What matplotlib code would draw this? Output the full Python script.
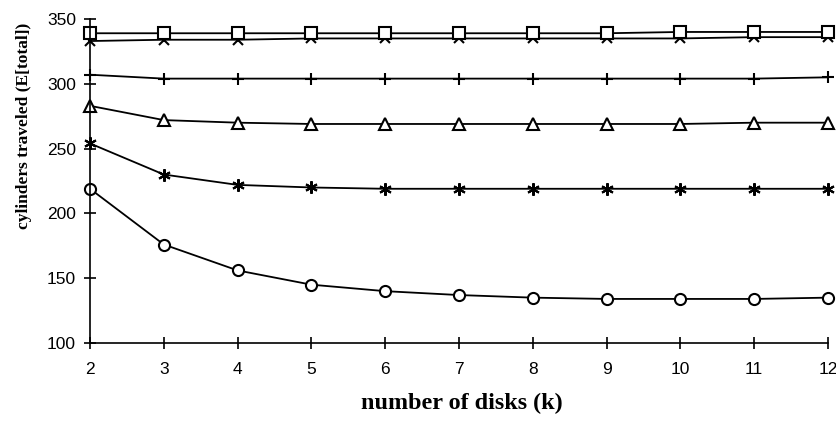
import matplotlib
matplotlib.use("Agg")
import matplotlib.pyplot as plt

k = [2, 3, 4, 5, 6, 7, 8, 9, 10, 11, 12]
square = [339, 339, 339, 339, 339, 339, 339, 339, 340, 340, 340]
xcross = [333, 334, 334, 335, 335, 335, 335, 335, 335, 336, 336]
plus = [307, 304, 304, 304, 304, 304, 304, 304, 304, 304, 305]
triangle = [283, 272, 270, 269, 269, 269, 269, 269, 269, 270, 270]
asterisk = [254, 230, 222, 220, 219, 219, 219, 219, 219, 219, 219]
circle = [219, 176, 156, 145, 140, 137, 135, 134, 134, 134, 135]

yticks = [100, 150, 200, 250, 300, 350]
xlabel = "number of disks (k)"
ylabel = "cylinders traveled (E[total])"

fig = plt.figure(figsize=(8.36, 4.23), dpi=100)
ax = fig.add_axes([90/836, 1-343/423, (828-90)/836, (343-19)/423])

lw = 1.3
common = dict(color="black", linewidth=lw, markerfacecolor="white",
              markeredgecolor="black", markeredgewidth=1.5, clip_on=False)
ax.plot(k, circle, marker="o", markersize=8, **common)
ax.plot(k, asterisk, marker=(6, 2, 0), markersize=9, **common)
ax.plot(k, triangle, marker="^", markersize=8, **common)
ax.plot(k, plus, marker="+", markersize=8, **common)
ax.plot(k, xcross, marker="x", markersize=7, **common)
ax.plot(k, square, marker="s", markersize=8.5, **common)

ax.set_xlim(2, 12)
ax.set_ylim(100, 350)
ax.set_xticks(k)
ax.set_yticks(yticks)
for s in ["top", "right"]:
    ax.spines[s].set_visible(False)
for s in ["left", "bottom"]:
    ax.spines[s].set_linewidth(1.2)
ax.tick_params(direction="inout", length=8, width=1.2, pad=6)
for lab in ax.get_xticklabels() + ax.get_yticklabels():
    lab.set_fontfamily("Liberation Sans")
    lab.set_fontsize(12.5)
ax.tick_params(axis="x", pad=10)

fig.text(462/836, 1-403/423, xlabel, ha="center", va="center",
         fontfamily="Liberation Serif", fontweight="bold", fontsize=17.4)
fig.text(24/836, 1-126/423, ylabel, ha="center", va="center", rotation=90,
         fontfamily="Liberation Serif", fontweight="bold", fontsize=12.5)

fig.savefig("out.png", dpi=100)
